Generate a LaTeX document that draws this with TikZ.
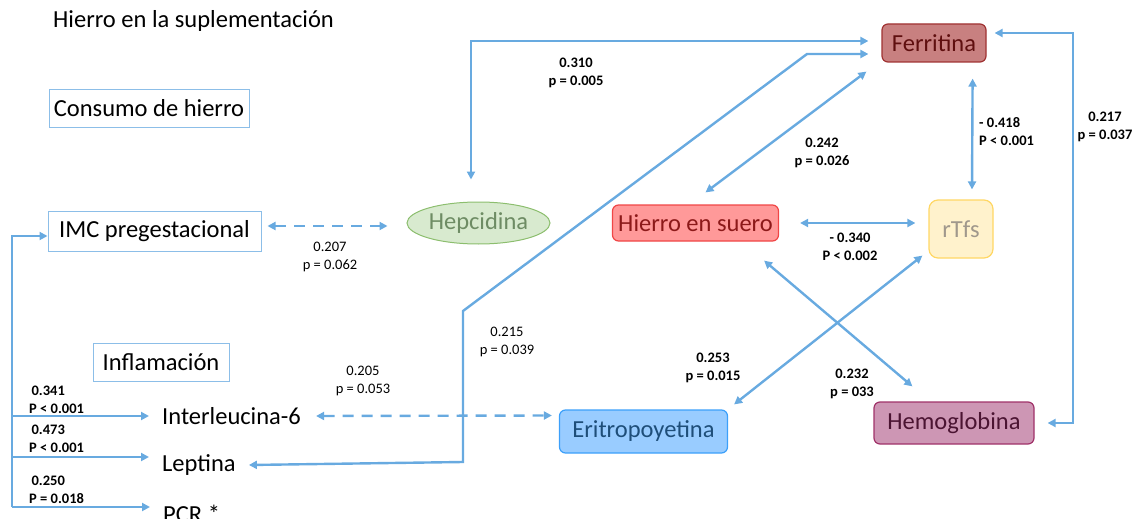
\documentclass[tikz,border=0pt]{standalone}
\usepackage{fontspec}
\setmainfont{Carlito}
\usetikzlibrary{arrows.meta,shapes.geometric}
\definecolor{ln}{RGB}{104,170,224}
\definecolor{pbox}{RGB}{140,190,232}
\definecolor{hepfill}{RGB}{216,234,207}
\definecolor{hepdraw}{RGB}{140,190,110}
\definecolor{heptext}{RGB}{110,140,100}
\definecolor{hsfill}{RGB}{255,153,153}
\definecolor{hsdraw}{RGB}{240,70,70}
\definecolor{hstext}{RGB}{140,25,25}
\definecolor{rtfill}{RGB}{255,242,204}
\definecolor{rtdraw}{RGB}{255,215,100}
\definecolor{rttext}{RGB}{160,152,140}
\definecolor{fefill}{RGB}{200,128,128}
\definecolor{fedraw}{RGB}{160,50,50}
\definecolor{fetext}{RGB}{95,15,15}
\definecolor{erfill}{RGB}{153,204,255}
\definecolor{erdraw}{RGB}{60,160,250}
\definecolor{ertext}{RGB}{30,78,121}
\definecolor{hmfill}{RGB}{205,150,180}
\definecolor{hmdraw}{RGB}{160,50,105}
\definecolor{hmtext}{RGB}{75,20,50}
\begin{document}
\begin{tikzpicture}[x=1pt,y=-1pt,
  mainfont/.style={font=\fontsize{24.5}{28}\selectfont},
  plainbox/.style={mainfont,draw=pbox,line width=1pt,inner sep=0pt},
  rbox/.style={mainfont,rounded corners=6pt,line width=1.2pt,inner sep=0pt},
  txt/.style={mainfont,inner sep=0pt,anchor=west},
  lab/.style={font=\fontsize{14.5}{18}\selectfont\bfseries,align=center,inner sep=0pt},
  labn/.style={font=\fontsize{14.5}{18}\selectfont,align=center,inner sep=0pt},
  tip/.style={-{Triangle[length=8pt,width=8pt]}},
  conn/.style={draw=ln,line width=2.4pt,tip},
  both/.style={draw=ln,line width=2.4pt,{Triangle[length=8pt,width=8pt]}-{Triangle[length=8pt,width=8pt]}},
  dashboth/.style={both,dash pattern=on 11pt off 8pt}]
\useasboundingbox (0,0) rectangle (1141,519);

% title
\node[mainfont,anchor=base west,inner sep=0pt] (title) at (53,28) {Hierro en la suplementación};

% plain boxes
\node[plainbox,minimum width=200pt,minimum height=37pt] (consumo) at (149,108.5) {Consumo de hierro};
\node[plainbox,minimum width=213pt,minimum height=40pt] (imc) at (154.5,231) {IMC pregestacional};
\node[plainbox,minimum width=136pt,minimum height=38pt] (inflam) at (161,362) {Inflamación};

% coloured nodes
\node[ellipse,mainfont,fill=hepfill,draw=hepdraw,line width=1pt,text=heptext,minimum width=143pt,minimum height=42pt,inner sep=0pt] (hep) at (478.5,223) {Hepcidina};
\node[rbox,fill=hsfill,draw=hsdraw,text=hstext,minimum width=166pt,minimum height=36pt] (hierro) at (695.5,223) {Hierro en suero};
\node[rbox,fill=rtfill,draw=rtdraw,text=rttext,minimum width=64pt,minimum height=58pt,rounded corners=9pt] (rtfs) at (961,229) {rTfs};
\node[rbox,fill=fefill,draw=fedraw,text=fetext,minimum width=104pt,minimum height=38pt] (ferr) at (934,43) {Ferritina};
\node[rbox,fill=erfill,draw=erdraw,text=ertext,minimum width=168pt,minimum height=43pt] (erit) at (643.5,431.5) {Eritropoyetina};
\node[rbox,fill=hmfill,draw=hmdraw,text=hmtext,minimum width=160pt,minimum height=42pt] (hemo) at (954,423) {Hemoglobina};

% plain texts
\node[txt] (il6) at (162,416) {Interleucina-6};
\node[txt] (lep) at (162,465) {Leptina};
\node[txt] (pcr) at (163,514) {PCR *};

% left bracket
\coordinate (lt) at (12,236);
\coordinate (b1) at (12,416);
\coordinate (b2) at (12,457);
\coordinate (lb) at (12,507);
\draw[conn] (lb) -- (lt) -- ([yshift=-5pt]imc.west);
\draw[conn] (b1) -- ([xshift=-13pt]il6.west);
\draw[conn] (b2) -- ([xshift=-13pt,yshift=8pt]lep.west);
\draw[conn] (lb) -- ([xshift=-13pt,yshift=7pt]pcr.west);

% dashed links
\draw[dashboth] ([xshift=6pt,yshift=5pt]imc.east) -- ([xshift=-19pt,yshift=-3pt]hep.west);
\draw[dashboth] ([xshift=15pt]il6.east) -- ([xshift=-7pt,yshift=16pt]erit.west);

% hepcidina - ferritina
\draw[both] ([xshift=-13pt,yshift=2pt]ferr.west) -| ([xshift=-7.5pt,yshift=22pt]hep.north);
% leptina - ferritina
\coordinate (lA) at (807,54);
\coordinate (lB) at (463,311);
\coordinate (lC) at (463,462);
\draw[both,line join=miter] ([xshift=-13pt,yshift=-11pt]ferr.west) -- (lA) -- (lB) -- (lC) -- ([xshift=13pt]lep.east);
% hierro - ferritina
\draw[both] ([xshift=10pt,yshift=12pt]hierro.north) -- ([xshift=-15pt,yshift=-9pt]ferr.south west);
% ferritina - rTfs
\draw[both] ([xshift=-14pt,yshift=-16pt]ferr.south east) -- ([xshift=11pt,yshift=10pt]rtfs.north);
% ferritina - hemoglobina
\coordinate (fh) at (1073,33);
\draw[both] ([xshift=8pt,yshift=10pt]ferr.east) -- (fh) |- ([xshift=13pt]hemo.east);
% hierro - rTfs
\draw[both] ([xshift=21pt]hierro.east) -- ([xshift=-13pt,yshift=6pt]rtfs.west);
% rTfs - eritropoyetina
\draw[both] ([xshift=-6pt,yshift=3pt]rtfs.south west) -- ([xshift=6pt,yshift=5pt]erit.north east);
% hierro - hemoglobina
\draw[both] ([xshift=-15pt,yshift=-19pt]hierro.south east) -- ([xshift=39pt,yshift=15pt]hemo.north west);

% labels
\node[lab] (l310) at (576,73) {0.310\\p = 0.005};
\node[lab] (l242) at (822,153) {0.242\\p = 0.026};
\node[lab,align=left,anchor=west] (l418) at (979,132) {- 0.418\\P < 0.001};
\node[lab] (l217) at (1105,127) {0.217\\p = 0.037};
\node[lab] (l340) at (850,247) {- 0.340\\P < 0.002};
\node[lab] (l253) at (713,368) {0.253\\p = 0.015};
\node[lab] (l232) at (852,384) {0.232\\p = 033};
\node[labn] (l207) at (330,257) {0.207\\p = 0.062};
\node[labn] (l205) at (363,381) {0.205\\p = 0.053};
\node[labn] (l215) at (507,342) {0.215\\p = 0.039};
\node[lab,align=left,anchor=west] (l341) at (29,400) {\,0.341\\P < 0.001};
\node[lab,align=left,anchor=west] (l473) at (29,439) {\,0.473\\P < 0.001};
\node[lab,align=left,anchor=west] (l250) at (29,490) {\,0.250\\P = 0.018};
\end{tikzpicture}
\end{document}
